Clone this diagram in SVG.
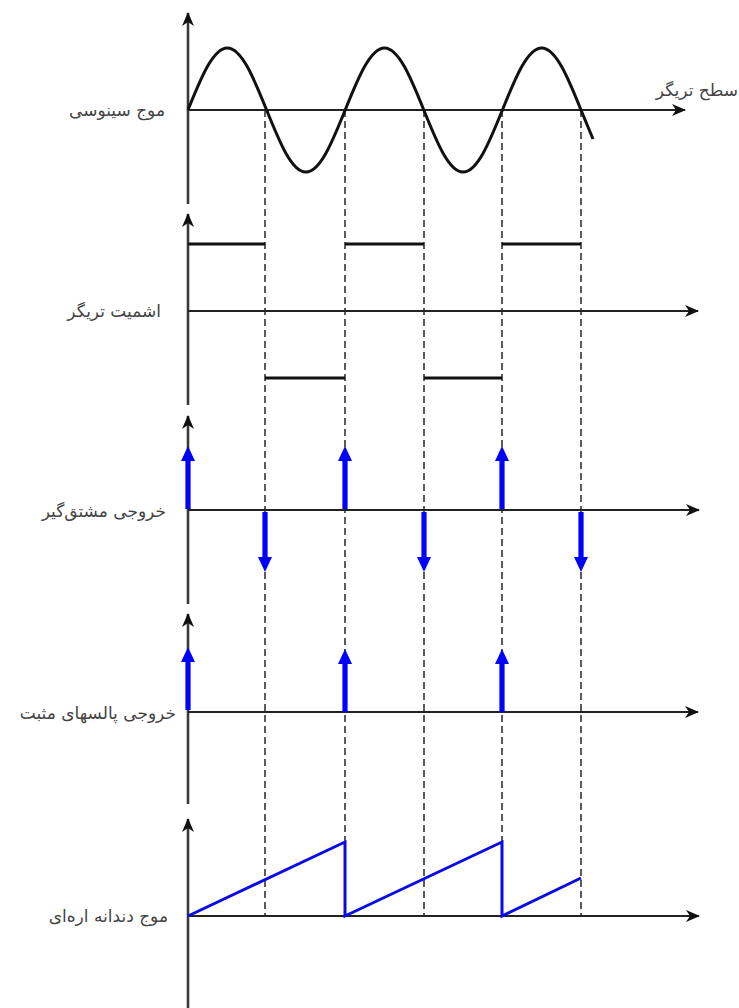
<svg xmlns="http://www.w3.org/2000/svg" xmlns:xlink="http://www.w3.org/1999/xlink" width="739" height="1008" viewBox="0 0 739 1008">
<style>
.axis{stroke:#222;stroke-width:2.2;fill:none}
.vaxis{stroke:#3a3a3a;stroke-width:2.6;fill:none}
.dash{stroke:#333;stroke-width:1.6;stroke-dasharray:7,4;fill:none}
.level{stroke:#111;stroke-width:3;fill:none}
.sine{stroke:#111;stroke-width:3;fill:none;stroke-linejoin:round}
.saw{stroke:#0a0ae6;stroke-width:3;fill:none;stroke-linejoin:miter}
.pulse{fill:#0000ff}
.lbl{font-family:"DejaVu Sans",sans-serif;font-size:17px;fill:#444;text-anchor:end}
</style>
<defs>
<marker id="ah" viewBox="0 0 14 12" markerWidth="14" markerHeight="12" refX="13" refY="6" orient="auto" markerUnits="userSpaceOnUse">
<path d="M0,0 L14,6 L0,12 L4,6 Z" fill="#111"/>
</marker>
<path id="up" class="pulse" d="M-2.6,0 V-48 H-7 L0,-63 L7,-48 H2.6 V0 Z"/>
<path id="down" class="pulse" d="M-2.6,0 V45 H-7 L0,60 L7,45 H2.6 V0 Z"/>
</defs>

<g id="connectors">
<path class="dash" d="M265,110 V916 M345,110 V916 M424,110 V916 M502,110 V916 M581,110 V916"/>
</g>

<g id="sine-wave">
<line class="vaxis" x1="188" y1="204" x2="188" y2="13" marker-end="url(#ah)"/>
<line class="axis" x1="188" y1="110" x2="685" y2="110" marker-end="url(#ah)"/>
<path class="sine" d="M188,110 c12.82,-31.76 25.08,-62 39.3,-62 s26.48,30.24 39.3,62 s25.08,62 39.3,62 s26.48,-30.24 39.3,-62 s25.08,-62 39.3,-62 s26.48,30.24 39.3,62 s25.08,62 39.3,62 s26.48,-30.24 39.3,-62 s25.08,-62 39.3,-62 s26.48,30.24 39.3,62 l12,29"/>
<text class="lbl" x="165" y="116">موج سینوسی</text>
<text class="lbl" x="738" y="96">سطح تریگر</text>
</g>

<g id="schmitt-trigger">
<line class="vaxis" x1="188" y1="405" x2="188" y2="214" marker-end="url(#ah)"/>
<line class="axis" x1="188" y1="311" x2="698" y2="311" marker-end="url(#ah)"/>
<path class="level" d="M188,244 H265 M345,244 H424 M502,244 H581 M265,378 H345 M424,378 H502"/>
<text class="lbl" x="161" y="317">اشمیت تریگر</text>
</g>

<g id="differentiator">
<line class="vaxis" x1="188" y1="604" x2="188" y2="416" marker-end="url(#ah)"/>
<line class="axis" x1="188" y1="510" x2="699" y2="510" marker-end="url(#ah)"/>
<use xlink:href="#up" x="188" y="509"/>
<use xlink:href="#up" x="345" y="509"/>
<use xlink:href="#up" x="502" y="509"/>
<use xlink:href="#down" x="265" y="512"/>
<use xlink:href="#down" x="424" y="512"/>
<use xlink:href="#down" x="581" y="512"/>
<text class="lbl" x="166" y="517">خروجی مشتق‌گیر</text>
</g>

<g id="positive-pulses">
<line class="vaxis" x1="188" y1="804" x2="188" y2="614" marker-end="url(#ah)"/>
<line class="axis" x1="188" y1="712" x2="698" y2="712" marker-end="url(#ah)"/>
<use xlink:href="#up" x="188" y="710"/>
<use xlink:href="#up" x="345" y="712"/>
<use xlink:href="#up" x="502" y="712"/>
<text class="lbl" x="176" y="719">خروجی پالسهای مثبت</text>
</g>

<g id="sawtooth">
<line class="vaxis" x1="188" y1="1008" x2="188" y2="819" marker-end="url(#ah)"/>
<line class="axis" x1="188" y1="916" x2="699" y2="916" marker-end="url(#ah)"/>
<path class="saw" d="M188,916 L345,842 V916 L502,842 V916 L581,878"/>
<text class="lbl" x="168" y="922">موج دندانه اره‌ای</text>
</g>
</svg>
